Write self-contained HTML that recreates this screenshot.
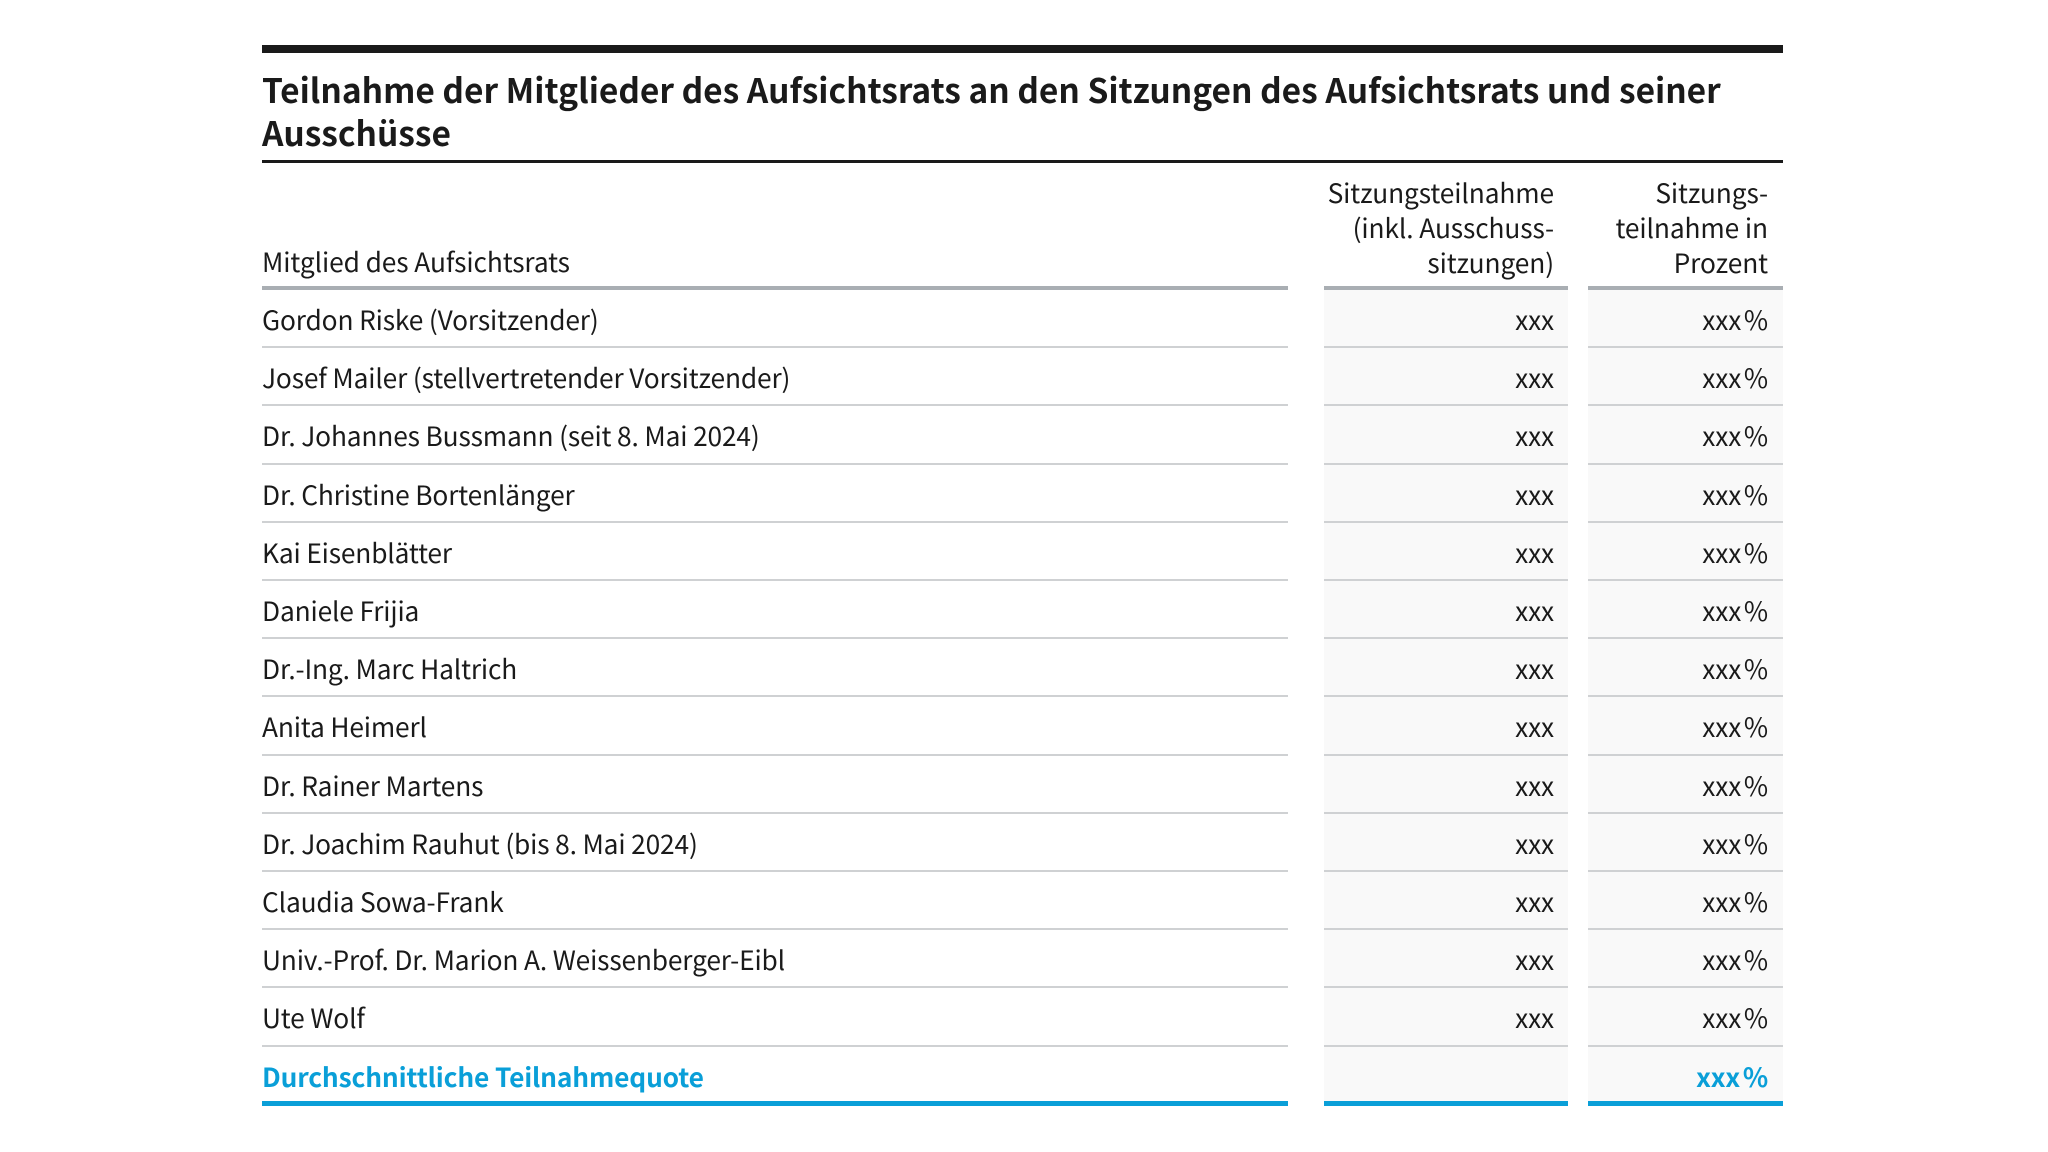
<!DOCTYPE html>
<html><head><meta charset="utf-8"><style>
*{margin:0;padding:0;box-sizing:border-box}
body{width:2048px;height:1152px;background:#fff;position:relative;font-family:"Noto Sans CJK SC","Liberation Sans",sans-serif;color:#1a1a1a;overflow:hidden}
.a{position:absolute}
.t{font-weight:bold;font-size:33.5px;line-height:43px;left:262px;top:67px;width:1530px;color:#1a1a1a}
.h{font-size:26.3px;line-height:35px;text-align:right;letter-spacing:-0.1px}
.row{position:absolute;left:0;width:2048px;height:58.2px}
.c{position:absolute;top:0;height:100%;font-size:26.3px;line-height:58px;letter-spacing:-0.15px}
.c1{left:262px;width:1026px;border-bottom:2px solid #cfd1d3}
.c2{left:1324px;width:244px;background:#f9f9f9;text-align:right;padding-right:14px;border-bottom:2px solid #cfd1d3}
.c3{left:1588px;width:195px;background:#f9f9f9;text-align:right;padding-right:15px;border-bottom:2px solid #cfd1d3}
.blue{color:#0a9fd8;font-weight:bold}
.last .c{border-bottom:5px solid #0a9fd8}
</style></head><body>
<div class="a" style="left:262px;top:45px;width:1521px;height:8px;background:#1a1a1a"></div>
<div class="a t">Teilnahme der Mitglieder des Aufsichtsrats an den Sitzungen des Aufsichtsrats und seiner Ausschüsse</div>
<div class="a" style="left:262px;top:160px;width:1521px;height:3px;background:#1a1a1a"></div>
<div class="a h" style="left:262px;top:243px;text-align:left">Mitglied des Aufsichtsrats</div>
<div class="a h" style="left:1324px;top:174px;width:230px">Sitzungsteilnahme<br>(inkl. Ausschuss-<br>sitzungen)</div>
<div class="a h" style="left:1588px;top:174px;width:180px">Sitzungs-<br>teilnahme in<br>Prozent</div>
<div class="a" style="left:262px;top:286px;width:1026px;height:4px;background:#a9aeb3"></div>
<div class="a" style="left:1324px;top:286px;width:244px;height:4px;background:#a9aeb3"></div>
<div class="a" style="left:1588px;top:286px;width:195px;height:4px;background:#a9aeb3"></div>
<div class="row" style="top:290px"><div class="c c1">Gordon Riske (Vorsitzender)</div><div class="c c2">xxx</div><div class="c c3">xxx&#8239;%</div></div>
<div class="row" style="top:348.2px"><div class="c c1">Josef Mailer (stellvertretender Vorsitzender)</div><div class="c c2">xxx</div><div class="c c3">xxx&#8239;%</div></div>
<div class="row" style="top:406.4px"><div class="c c1">Dr. Johannes Bussmann (seit 8. Mai 2024)</div><div class="c c2">xxx</div><div class="c c3">xxx&#8239;%</div></div>
<div class="row" style="top:464.6px"><div class="c c1">Dr. Christine Bortenlänger</div><div class="c c2">xxx</div><div class="c c3">xxx&#8239;%</div></div>
<div class="row" style="top:522.8px"><div class="c c1">Kai Eisenblätter</div><div class="c c2">xxx</div><div class="c c3">xxx&#8239;%</div></div>
<div class="row" style="top:581px"><div class="c c1">Daniele Frijia</div><div class="c c2">xxx</div><div class="c c3">xxx&#8239;%</div></div>
<div class="row" style="top:639.2px"><div class="c c1">Dr.-Ing. Marc Haltrich</div><div class="c c2">xxx</div><div class="c c3">xxx&#8239;%</div></div>
<div class="row" style="top:697.4px"><div class="c c1">Anita Heimerl</div><div class="c c2">xxx</div><div class="c c3">xxx&#8239;%</div></div>
<div class="row" style="top:755.6px"><div class="c c1">Dr. Rainer Martens</div><div class="c c2">xxx</div><div class="c c3">xxx&#8239;%</div></div>
<div class="row" style="top:813.8px"><div class="c c1">Dr. Joachim Rauhut (bis 8. Mai 2024)</div><div class="c c2">xxx</div><div class="c c3">xxx&#8239;%</div></div>
<div class="row" style="top:872px"><div class="c c1">Claudia Sowa-Frank</div><div class="c c2">xxx</div><div class="c c3">xxx&#8239;%</div></div>
<div class="row" style="top:930.2px"><div class="c c1">Univ.-Prof. Dr. Marion A. Weissenberger-Eibl</div><div class="c c2">xxx</div><div class="c c3">xxx&#8239;%</div></div>
<div class="row" style="top:988.4px"><div class="c c1">Ute Wolf</div><div class="c c2">xxx</div><div class="c c3">xxx&#8239;%</div></div>
<div class="row last" style="top:1046.6px;height:59px"><div class="c c1 blue">Durchschnittliche Teilnahmequote</div><div class="c c2 blue"></div><div class="c c3 blue">xxx&#8239;%</div></div>
</body></html>
